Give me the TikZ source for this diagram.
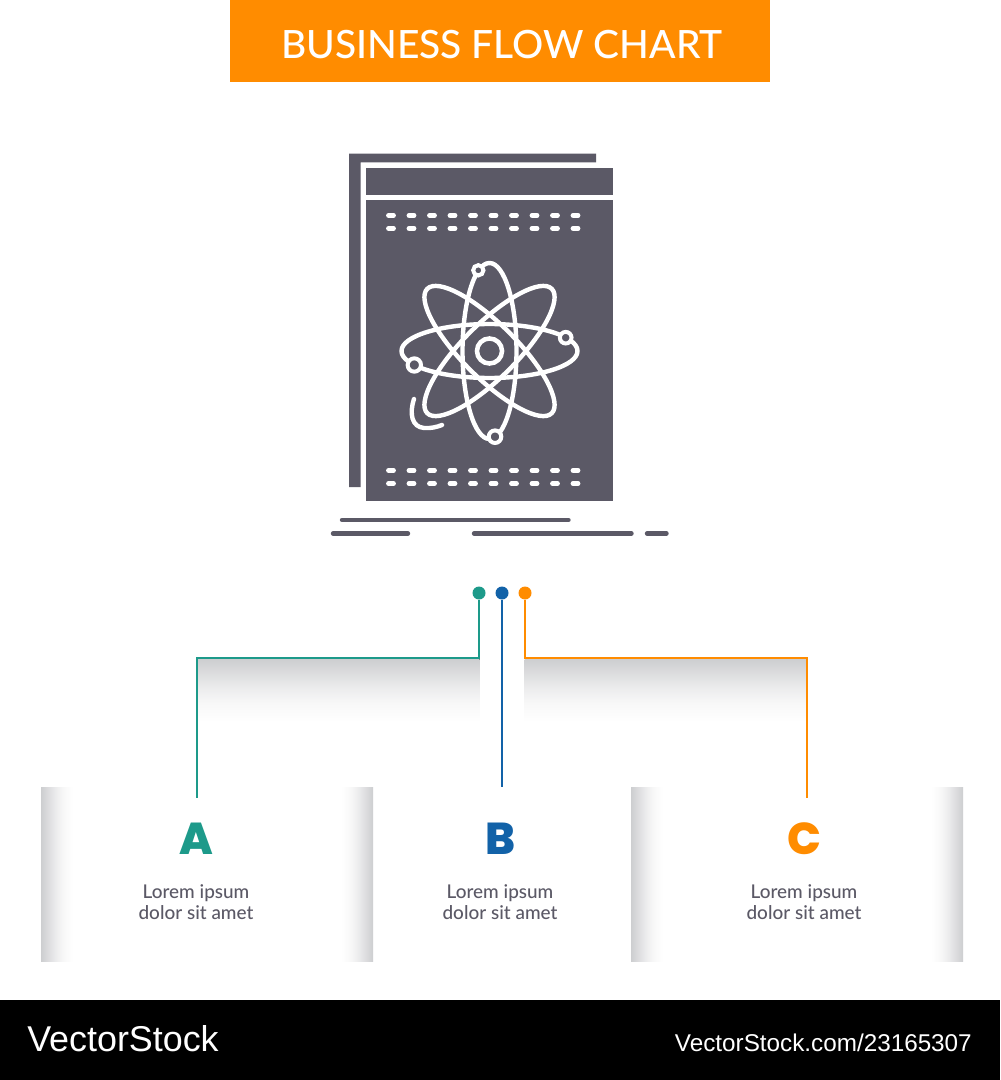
\documentclass[tikz,border=0pt]{standalone}
\usepackage{fontspec}
\setmainfont{Lato}
\newfontfamily\bodyfont{Lato Medium}
\newfontfamily\letterfont{Poppins ExtraBold}
\newfontfamily\wmfont{Liberation Sans}
\usetikzlibrary{calc}
\definecolor{icon}{HTML}{5B5966}
\definecolor{teal}{HTML}{1D9A8A}
\definecolor{bluec}{HTML}{1262A8}
\definecolor{orangec}{HTML}{FF8C00}
\definecolor{shade}{HTML}{CDCED0}
\definecolor{shadeb}{HTML}{ECECED}
\definecolor{shadec}{HTML}{F8F8F8}
\pgfdeclareverticalshading{shadowdown}{100bp}{color(0bp)=(white); color(25bp)=(white); color(40bp)=(shadec); color(52bp)=(shadeb); color(75bp)=(shade); color(100bp)=(shade)}
\pgfdeclarehorizontalshading{edgefade}{100bp}{color(0bp)=(shade); color(25bp)=(shade); color(48bp)=(shadeb); color(60bp)=(shadec); color(75bp)=(white); color(100bp)=(white)}
\pgfdeclarehorizontalshading{edgefademirror}{100bp}{color(0bp)=(white); color(25bp)=(white); color(40bp)=(shadec); color(52bp)=(shadeb); color(75bp)=(shade); color(100bp)=(shade)}
\tikzset{
  x=0.75pt,y=-0.75pt,
  orbit/.style={draw=white,line width=3.3pt},
  dashrow/.style={draw=white,line width=3.6pt,line cap=round},
  iconline/.style={draw=icon,line width=3.3pt,line cap=round},
  dot/.style={circle,inner sep=0pt,minimum size=9.75pt},
  conn/.style={line width=1.5pt},
  panel/.style={inner sep=0pt,minimum width=248.6pt,minimum height=130.5pt},
  letter/.style={inner sep=0pt,anchor=base,font=\letterfont\fontsize{33.5}{33.5}\selectfont},
  body/.style={inner sep=0pt,anchor=base,text=icon,font=\bodyfont\fontsize{14.2}{15.75}\selectfont},
  electron/.style={circle,draw=white,fill=icon,inner sep=0pt,line width=3pt},
}
\begin{document}
\begin{tikzpicture}
\useasboundingbox (0,0) rectangle (1000,1080);
\fill[white] (0,0) rectangle (1000,1080);
% header and footer
\fill[orangec] (230,0) rectangle (770,82);
\node[inner sep=0pt,anchor=base,text=white,font=\bodyfont\fontsize{29.2}{29}\selectfont] (title) at (502,59) {BUSINESS FLOW CHART};
\fill[black] (0,1000) rectangle (1000,1080);
\node[inner sep=0pt,anchor=base west,text=white,font=\wmfont\fontsize{26.9}{26.9}\selectfont] (wm1) at (27,1051.5) {VectorStock};
\node[inner sep=0pt,anchor=base east,text=white,font=\wmfont\fontsize{18.2}{18.2}\selectfont] (wm2) at (972,1051.5) {VectorStock.com/23165307};
% icon sheets
\fill[icon] (349,153.7) -- (596,153.7) -- (596,162.3) -- (360.7,162.3) -- (360.7,487) -- (349,487) -- cycle;
\fill[icon] (365.7,167.7) rectangle (613,195);
\fill[icon] (365.7,200.3) rectangle (613,501);
% dash rows
\foreach \yy in {215.3,228.3,470.3,483.7}{
  \foreach \i in {0,...,9}{
    \draw[dashrow] ({388.5+\i*20.5},\yy) -- ({393.5+\i*20.5},\yy);
  }
}
% atom
\coordinate (c) at (489.5,351);
\draw[orbit] (c) ellipse [x radius=66pt,y radius=20.25pt];
\draw[orbit] (c) ellipse [x radius=20.25pt,y radius=66pt];
\draw[orbit,rotate around={45:(c)}] (c) ellipse [x radius=66pt,y radius=20.25pt];
\draw[orbit,rotate around={-45:(c)}] (c) ellipse [x radius=66pt,y radius=20.25pt];
\draw[draw=white,line width=3.4pt] (c) circle [radius=9.4pt];
\node[electron,minimum size=7.7pt] (e1) at (478.3,270.3) {};
\node[electron,minimum size=8.7pt] (e2) at (565.7,337.7) {};
\node[electron,minimum size=10pt] (e3) at (414.3,365) {};
\node[electron,minimum size=9.4pt] (e4) at (495,436.7) {};
\draw[orbit,line cap=round] (414,399) .. controls (409,414) and (412,427) .. (424,428) .. controls (431,428.5) and (437,427) .. (442,425);
% icon base lines
\draw[iconline] (342,520) -- (568.5,520);
\draw[iconline] (333,533.5) -- (408,533.5);
\draw[iconline] (474,533.5) -- (631.5,533.5);
\draw[iconline] (647,533.5) -- (666.5,533.5);
% connector shadows
\fill[shading=shadowdown] (197,659) rectangle (479.5,722);
\fill[shading=shadowdown] (524.5,659) rectangle (807,722);
% panels
\node[panel,anchor=north west] (pa) at (41,787) {};
\node[panel,anchor=north west] (pc) at (631,787) {};
\fill[shading=edgefade] (pa.north west) rectangle ($(pa.south west)+(32,0)$);
\fill[shading=edgefademirror] ($(pa.north east)+(-32,0)$) rectangle (pa.south east);
\fill[shading=edgefade] (pc.north west) rectangle ($(pc.south west)+(32,0)$);
\fill[shading=edgefademirror] ($(pc.north east)+(-32,0)$) rectangle (pc.south east);
% connectors
\node[dot,fill=teal] (da) at (479,593) {};
\node[dot,fill=bluec] (db) at (502,593) {};
\node[dot,fill=orangec] (dc) at (525,593) {};
\coordinate (ea) at (197,798);
\coordinate (eb) at (502,787);
\coordinate (ec) at (807,798);
\draw[conn,draw=teal] (da) -- (da |- 0,658) -- (ea |- 0,658) -- (ea);
\draw[conn,draw=bluec] (db) -- (eb);
\draw[conn,draw=orangec] (dc) -- (dc |- 0,658) -- (ec |- 0,658) -- (ec);
% labels
\node[letter,text=teal] (la) at (196,854) {A};
\node[letter,text=bluec] (lb) at (500,854) {B};
\node[letter,text=orangec] (lc) at (804.5,854) {C};
\node[body] (ta1) at (196,898) {Lorem ipsum};
\node[body] (ta2) at (196,919) {dolor sit amet};
\node[body] (tb1) at (500,898) {Lorem ipsum};
\node[body] (tb2) at (500,919) {dolor sit amet};
\node[body] (tc1) at (804,898) {Lorem ipsum};
\node[body] (tc2) at (804,919) {dolor sit amet};
\end{tikzpicture}
\end{document}
